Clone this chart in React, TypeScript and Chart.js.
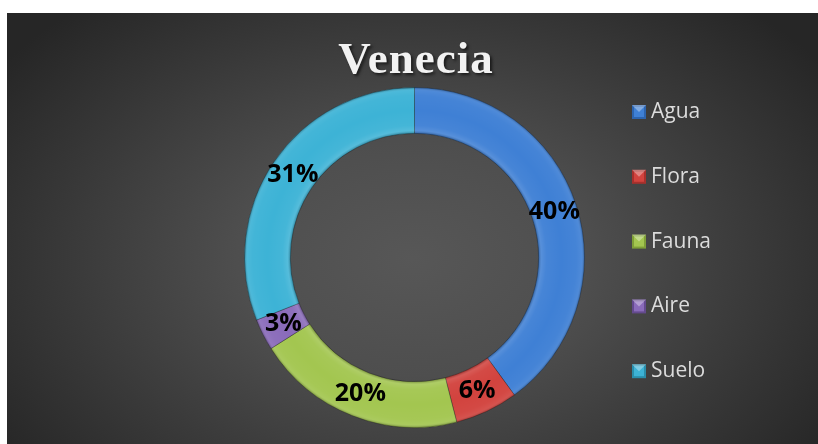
import React, { useEffect, useRef } from "react";
import { Chart, registerables } from "chart.js";

Chart.register(...registerables);

const TITLE = "Venecia";
const categories = ["Agua", "Flora", "Fauna", "Aire", "Suelo"];
const values = [40, 6, 20, 3, 31];
const colors = ["#3f80d5", "#d2433e", "#a3c650", "#8a6bba", "#3db3d6"];
const edgeColors = ["#2d64ae", "#a8302c", "#7f9f38", "#644a8e", "#2a8eab"];

const titlePlugin = {
  id: "customTitle",
  afterDraw(chart: any) {
    const ctx = chart.ctx;
    ctx.save();
    ctx.font = "bold 45px 'Liberation Serif'";
    (ctx as any).letterSpacing = "1px";
    ctx.textAlign = "center";
    ctx.textBaseline = "alphabetic";
    ctx.shadowColor = "rgba(0,0,0,0.6)";
    ctx.shadowOffsetX = 2;
    ctx.shadowOffsetY = 2;
    ctx.shadowBlur = 3;
    ctx.fillStyle = "#f2f2f2";
    ctx.fillText(TITLE, 409, 60);
    ctx.restore();
  },
};

const labelPlugin = {
  id: "pctLabels",
  afterDatasetsDraw(chart: any) {
    const ctx = chart.ctx;
    const meta = chart.getDatasetMeta(0);
    const data = chart.data.datasets[0].data as number[];
    const total = data.reduce((a, b) => a + b, 0);
    const first = meta.data[0] as any;
    if (first) {
      const { x, y, innerRadius, outerRadius } = first;
      const g = ctx.createRadialGradient(x, y, innerRadius, x, y, outerRadius);
      const w = outerRadius - innerRadius;
      const f = (px: number) => Math.min(1, Math.max(0, px / w));
      g.addColorStop(0, "rgba(0,0,0,0.25)");
      g.addColorStop(f(3), "rgba(255,255,255,0.12)");
      g.addColorStop(f(8), "rgba(255,255,255,0.04)");
      g.addColorStop(0.5, "rgba(255,255,255,0)");
      g.addColorStop(f(w - 8), "rgba(255,255,255,0.03)");
      g.addColorStop(f(w - 3), "rgba(255,255,255,0.08)");
      g.addColorStop(1, "rgba(0,0,0,0.25)");
      ctx.save();
      ctx.beginPath();
      ctx.arc(x, y, outerRadius, 0, Math.PI * 2);
      ctx.arc(x, y, innerRadius, 0, Math.PI * 2, true);
      ctx.closePath();
      ctx.fillStyle = g;
      ctx.fill();
      ctx.restore();
    }
    ctx.save();
    ctx.font = "bold 25px 'Open Sans'";
    ctx.fillStyle = "#000000";
    ctx.textAlign = "center";
    ctx.textBaseline = "middle";
    meta.data.forEach((arc: any, i: number) => {
      const p = arc.getCenterPoint();
      const pct = Math.round((data[i] / total) * 100) + "%";
      ctx.fillText(pct, p.x, p.y);
    });
    ctx.restore();
  },
};

const legendPlugin = {
  id: "customLegend",
  afterDraw(chart: any) {
    const ctx = chart.ctx;
    const labels = chart.data.labels as string[];
    const startY = 99;
    const step = 64.8;
    const boxX = 625;
    const size = 14;
    ctx.save();
    labels.forEach((lab, i) => {
      const cy = startY + i * step;
      const y0 = cy - size / 2;
      ctx.fillStyle = edgeColors[i];
      ctx.fillRect(boxX, y0, size, size);
      ctx.fillStyle = colors[i];
      ctx.fillRect(boxX + 2, y0 + 2, size - 4, size - 4);
      ctx.fillStyle = "rgba(255,255,255,0.35)";
      ctx.beginPath();
      ctx.moveTo(boxX, y0);
      ctx.lineTo(boxX + size, y0);
      ctx.lineTo(boxX + size / 2, y0 + size / 2);
      ctx.closePath();
      ctx.fill();
      ctx.font = "21px 'Open Sans'";
      ctx.fillStyle = "#dcdcdc";
      ctx.textAlign = "left";
      ctx.textBaseline = "middle";
      ctx.fillText(lab, boxX + size + 5, cy);
    });
    ctx.restore();
  },
};

export default function App() {
  const ref = useRef<HTMLCanvasElement | null>(null);
  useEffect(() => {
    if (!ref.current) return;
    const chart = new Chart(ref.current, {
      type: "doughnut",
      data: {
        labels: categories,
        datasets: [
          {
            data: values,
            backgroundColor: colors,
            borderColor: "rgba(30,30,30,0.35)",
            borderWidth: 1,
          },
        ],
      },
      options: {
        animation: false,
        responsive: false,
        maintainAspectRatio: false,
        cutout: "73%",
        rotation: 0,
        layout: { padding: { top: 74, bottom: 16, left: 4, right: 0 } },
        plugins: {
          legend: { display: false },
          title: { display: false },
          tooltip: { enabled: false },
        },
      },
      plugins: [labelPlugin, titlePlugin, legendPlugin],
    });
    return () => chart.destroy();
  }, []);
  return (
    <div
      style={{
        position: "fixed",
        left: 7,
        top: 13,
        width: 811,
        height: 431,
        background:
          "radial-gradient(ellipse 62% 78% at 50% 57%, #575757 0%, #4e4e4e 35%, #262626 100%)",
      }}
    >
      <canvas ref={ref} width={811} height={431} style={{ display: "block" }} />
    </div>
  );
}
